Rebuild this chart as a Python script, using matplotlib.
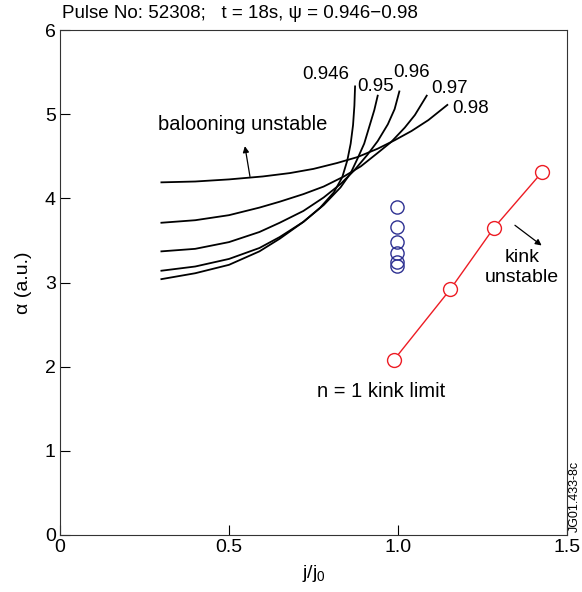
import numpy as np
import matplotlib
matplotlib.use('Agg')
import matplotlib.pyplot as plt

plt.rcParams['font.family'] = ['Liberation Sans', 'DejaVu Sans']
plt.rcParams['mathtext.fontset'] = 'custom'
plt.rcParams['mathtext.rm'] = 'Liberation Sans'

# ballooning stability boundaries, one per psi
psi_labels = ['0.946', '0.95', '0.96', '0.97', '0.98']
x_946 = [0.30, 0.40, 0.50, 0.59, 0.65, 0.72, 0.77, 0.81, 0.835, 0.85, 0.86, 0.867, 0.871, 0.873]
y_946 = [3.04, 3.11, 3.21, 3.37, 3.52, 3.72, 3.89, 4.07, 4.25, 4.45, 4.65, 4.87, 5.10, 5.33]
x_95 = [0.30, 0.40, 0.50, 0.59, 0.65, 0.72, 0.78, 0.83, 0.86, 0.88, 0.90, 0.915, 0.93, 0.94]
y_95 = [3.14, 3.19, 3.28, 3.41, 3.54, 3.72, 3.92, 4.13, 4.30, 4.47, 4.65, 4.85, 5.05, 5.22]
x_96 = [0.30, 0.40, 0.50, 0.59, 0.65, 0.72, 0.78, 0.83, 0.87, 0.91, 0.94, 0.97, 0.99, 1.004]
y_96 = [3.37, 3.40, 3.48, 3.60, 3.71, 3.85, 4.01, 4.17, 4.33, 4.52, 4.68, 4.88, 5.06, 5.27]
x_97 = [0.30, 0.40, 0.50, 0.59, 0.65, 0.72, 0.78, 0.84, 0.89, 0.94, 0.98, 1.02, 1.05, 1.085]
y_97 = [3.71, 3.74, 3.80, 3.89, 3.96, 4.05, 4.14, 4.26, 4.38, 4.54, 4.67, 4.84, 4.99, 5.22]
x_98 = [0.30, 0.40, 0.50, 0.60, 0.68, 0.75, 0.82, 0.88, 0.94, 0.99, 1.04, 1.09, 1.146]
y_98 = [4.19, 4.20, 4.225, 4.26, 4.30, 4.35, 4.42, 4.49, 4.59, 4.69, 4.80, 4.93, 5.11]

# experimental points
exp_x = [0.997, 0.997, 0.997, 0.997, 0.997, 0.997]
exp_y = [3.90, 3.66, 3.48, 3.35, 3.24, 3.20]

# n = 1 kink limit
kink_x = [0.988, 1.155, 1.283, 1.426]
kink_y = [2.08, 2.92, 3.645, 4.31]

curves = [(x_946, y_946), (x_95, y_95), (x_96, y_96), (x_97, y_97), (x_98, y_98)]
label_pos = [(0.785, 5.47), (0.935, 5.33), (1.04, 5.50), (1.152, 5.30), (1.215, 5.07)]

fig = plt.figure(figsize=(5.82, 5.92), dpi=100)
ax = fig.add_axes([0.1031, 0.0963, 0.8711, 0.853])

for (cx, cy), lab, (lx, ly) in zip(curves, psi_labels, label_pos):
    ax.plot(cx, cy, color='black', linewidth=1.3)
    ax.text(lx, ly, lab, fontsize=13.5, ha='center', va='center')

ax.plot(exp_x, exp_y, 'o', markersize=9.5, markerfacecolor='none',
        markeredgecolor='#2e3192', markeredgewidth=1.0)
ax.plot(kink_x, kink_y, '-o', color='#ed1c24', linewidth=1.0, markersize=10,
        markerfacecolor='white', markeredgecolor='#ed1c24', markeredgewidth=1.0)

ax.text(0.29, 4.88, 'balooning unstable', fontsize=14.5, ha='left', va='center')
ax.annotate('', xy=(0.547, 4.62), xytext=(0.562, 4.26),
            arrowprops=dict(arrowstyle='-|>', color='black', lw=0.9,
                            mutation_scale=9, shrinkA=0, shrinkB=0))
ax.text(1.367, 3.30, 'kink', fontsize=14, ha='center', va='center')
ax.text(1.367, 3.06, 'unstable', fontsize=14, ha='center', va='center')
ax.annotate('', xy=(1.425, 3.44), xytext=(1.346, 3.68),
            arrowprops=dict(arrowstyle='-|>', color='black', lw=0.9,
                            mutation_scale=9, shrinkA=0, shrinkB=0))
ax.text(0.95, 1.70, 'n = 1 kink limit', fontsize=14.5, ha='center', va='center')

ax.set_xlim(0, 1.5)
ax.set_ylim(0, 6)
ax.set_xticks([0, 0.5, 1.0, 1.5])
ax.set_xticklabels(['0', '0.5', '1.0', '1.5'])
ax.set_yticks([0, 1, 2, 3, 4, 5, 6])
ax.tick_params(direction='in', labelsize=14, length=7, width=0.8, pad=3)
for s in ax.spines.values():
    s.set_linewidth(0.8)
    s.set_color('#333333')

ax.set_xlabel('j/j$_0$', fontsize=14, labelpad=5)
ax.set_ylabel('\u03b1 (a.u.)', fontsize=14, labelpad=9)

fig.text(62 / 582, 1 - 14 / 592, 'Pulse No: 52308;   t = 18s, \u03c8 = 0.946\u22120.98',
         fontsize=13.5, ha='left', va='center')
fig.text(575 / 582, 1 - 496 / 592, 'JG01.433-8c', fontsize=9, rotation=90,
         ha='center', va='center')

fig.savefig('out.png', dpi=100)
